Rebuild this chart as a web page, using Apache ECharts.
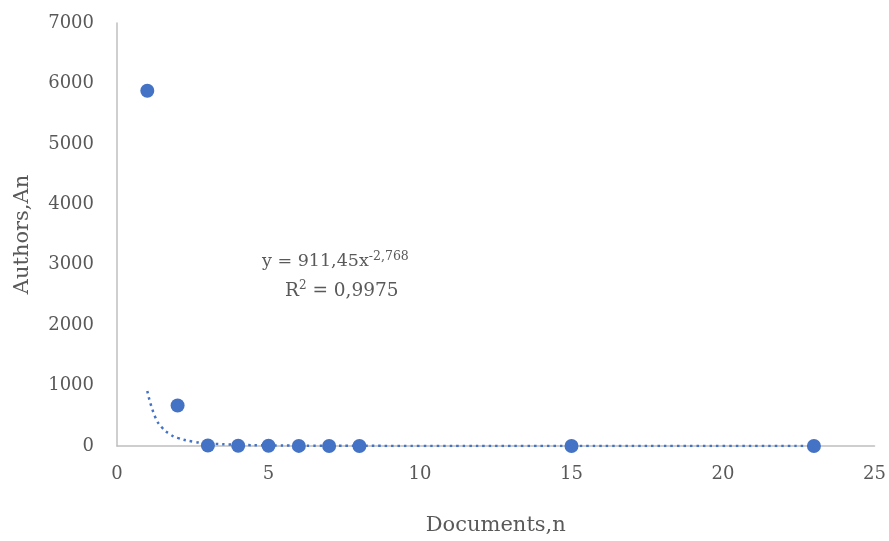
<!DOCTYPE html>
<html>
<head>
<meta charset="utf-8">
<script src="https://cdn.jsdelivr.net/npm/echarts@6/dist/echarts.min.js"></script>
<style>
  html, body { margin: 0; padding: 0; background: #fff; }
  #main { width: 889px; height: 541px; }
</style>
</head>
<body>
<div id="main"></div>
<script>
// 散点数据
var docs = [1, 2, 3, 4, 5, 6, 7, 8, 15, 23];
var authors = [5880, 670, 8, 4, 3, 2, 1, 1, 1, 1];

// 幂函数趋势线，沿曲线估读的点
var trendX = [1, 1.25, 1.5, 1.75, 2, 2.5, 3, 4, 5, 6, 8, 10, 15, 20, 23];
var trendY = [911, 493, 297, 194, 134, 73, 44, 20, 10.6, 6.4, 2.9, 1.5, 0.5, 0.2, 0.15];

var xTicks = [0, 5, 10, 15, 20, 25];
var yTicks = [0, 1000, 2000, 3000, 4000, 5000, 6000, 7000];

var myChart = echarts.init(document.getElementById('main'));

var serif = 'DejaVu Serif';
var grey = '#595959';

var option = {
    animation: false,
    grid: { left: 117, right: 12, top: 23, bottom: 94 },
    xAxis: {
        type: 'value',
        min: xTicks[0],
        max: xTicks[xTicks.length - 1],
        interval: 5,
        name: 'Documents,n',
        nameLocation: 'middle',
        nameGap: 69,
        nameTextStyle: { color: grey, fontSize: 21, fontFamily: serif },
        axisLine: { lineStyle: { color: '#bfbfbf', width: 1.5 } },
        axisTick: { show: false },
        splitLine: { show: false },
        axisLabel: { color: grey, fontSize: 18, fontFamily: serif, margin: 19 }
    },
    yAxis: {
        type: 'value',
        min: yTicks[0],
        max: yTicks[yTicks.length - 1],
        interval: 1000,
        name: 'Authors,An',
        nameLocation: 'middle',
        nameGap: 84,
        nameTextStyle: { color: grey, fontSize: 21, fontFamily: serif },
        axisLine: { show: true, lineStyle: { color: '#bfbfbf', width: 1.5 } },
        axisTick: { show: false },
        splitLine: { show: false },
        axisLabel: {
            color: grey, fontSize: 18, fontFamily: serif, margin: 23,
            formatter: function (v) { return String(v); }
        }
    },
    series: [
        {
            type: 'line',
            data: trendX.map(function (x, i) { return [x, trendY[i]]; }),
            smooth: true,
            showSymbol: false,
            lineStyle: { color: '#4472C4', width: 2.5, type: [2.5, 4] },
            z: 1
        },
        {
            type: 'scatter',
            data: docs.map(function (x, i) { return [x, authors[i]]; }),
            symbolSize: 14,
            itemStyle: { color: '#4472C4', opacity: 1 },
            z: 2
        }
    ],
    graphic: [
        {
            type: 'text',
            left: 262,
            top: 250,
            style: {
                text: '{a|y = 911,45x}{s|-2,768}',
                rich: {
                    a: { fontSize: 17.5, fontFamily: serif, fill: grey },
                    s: { fontSize: 12.5, fontFamily: serif, fill: grey, padding: [0, 0, 10, 0] }
                }
            }
        },
        {
            type: 'text',
            left: 285,
            top: 280,
            style: {
                text: '{a|R}{s|2}{a| = 0,9975}',
                rich: {
                    a: { fontSize: 18.5, fontFamily: serif, fill: grey },
                    s: { fontSize: 12, fontFamily: serif, fill: grey, padding: [0, 0, 10, 0] }
                }
            }
        }
    ]
};

myChart.setOption(option);
window.addEventListener('resize', myChart.resize);
</script>
</body>
</html>
